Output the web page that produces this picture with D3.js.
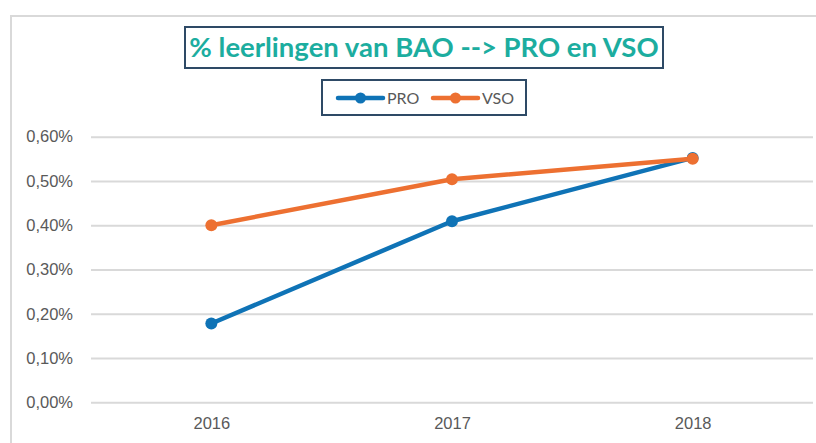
<!DOCTYPE html>
<html>
<head>
<meta charset="utf-8">
<script src="https://cdn.jsdelivr.net/npm/d3@7"></script>
<style>
body{margin:0;background:#fff;}
svg{display:block;font-family:Lato,"Open Sans",sans-serif;}
</style>
</head>
<body>
<svg id="chart"></svg>
<script>
var width  = 816;
var height = 443;

// data
var years = ["2016","2017","2018"];
var proValues = [0.00178, 0.00409, 0.00552];
var vsoValues = [0.00400, 0.00504, 0.00550];
var yTicks = [0, 0.001, 0.002, 0.003, 0.004, 0.005, 0.006];
var seriesNames = ["PRO","VSO"];
var seriesColors = ["#0f73b6","#ed7031"];

var series = [
  {name:seriesNames[0], color:seriesColors[0], values:proValues},
  {name:seriesNames[1], color:seriesColors[1], values:vsoValues}
];

var svg = d3.select('#chart')
    .attr("width",width)
    .attr("height",height);

// outer frame of the chart
svg.append('rect')
    .attr("x",11).attr("y",16)
    .attr("width",width+20).attr("height",height+20)
    .attr("fill","none")
    .attr("stroke","#d9d9d9")
    .attr("stroke-width",2);

var xscale = d3.scalePoint()
    .domain(years)
    .range([91,813])
    .padding(0.5);

var yscale = d3.scaleLinear()
    .domain([0,0.006])
    .range([402.3,136.7]);

var fmt = d=>d3.format(".2f")(d*100).replace(".",",")+"%";

var yAxis = d3.axisLeft(yscale)
    .tickValues(yTicks)
    .tickSize(-(813-91))
    .tickPadding(18)
    .tickFormat(fmt);

svg.append('g')
    .classed('yAxis',true)
    .attr("transform","translate(91,0)")
    .call(yAxis)
    .call(g=>g.select('.domain').remove())
    .call(g=>g.selectAll('.tick line').attr("stroke","#d9d9d9").attr("stroke-width",2))
    .call(g=>g.selectAll('.tick text').attr("fill","#595959").style("font-size","16.5px"));

var xAxis = d3.axisBottom(xscale)
    .tickSize(0)
    .tickPadding(15);

svg.append('g')
    .classed('xAxis',true)
    .attr("transform","translate(0,402.3)")
    .call(xAxis)
    .call(g=>g.select('.domain').remove())
    .call(g=>g.selectAll('.tick text').attr("fill","#595959").style("font-size","16.5px"));

var line = d3.line()
    .x((d,i)=>xscale(years[i]))
    .y(d=>yscale(d));

var groups = svg.selectAll('.series')
    .data(series)
    .enter()
    .append('g')
    .classed('series',true);

groups.append('path')
    .attr("d",d=>line(d.values))
    .attr("fill","none")
    .attr("stroke",d=>d.color)
    .attr("stroke-width",4.5)
    .attr("stroke-linejoin","round");

groups.selectAll('circle')
    .data(d=>d.values.map(v=>({v:v,color:d.color})))
    .enter()
    .append('circle')
    .attr("cx",(d,i)=>xscale(years[i]))
    .attr("cy",d=>yscale(d.v))
    .attr("r",6)
    .attr("fill",d=>d.color);

// title box
svg.append('rect')
    .attr("x",185).attr("y",27)
    .attr("width",478).attr("height",41)
    .attr("fill","#fff")
    .attr("stroke","#2e4a66")
    .attr("stroke-width",2);

svg.append('text')
    .attr("x",424).attr("y",57)
    .attr("text-anchor","middle")
    .attr("fill","#1cad9f")
    .style("font-size","27.5px")
    .style("font-weight","bold")
    .text("% leerlingen van BAO --> PRO en VSO");

// legend box
svg.append('rect')
    .attr("x",322).attr("y",80)
    .attr("width",204).attr("height",35)
    .attr("fill","#fff")
    .attr("stroke","#2e4a66")
    .attr("stroke-width",2);

var legend = svg.selectAll('.legendItem')
    .data(series)
    .enter()
    .append('g')
    .classed('legendItem',true)
    .attr("transform",(d,i)=>`translate(${338+i*95},98)`);

legend.append('line')
    .attr("x1",0).attr("x2",45)
    .attr("stroke",d=>d.color)
    .attr("stroke-width",4.5)
    .attr("stroke-linecap","round");

legend.append('circle')
    .attr("cx",22.5).attr("r",5.5)
    .attr("fill",d=>d.color);

legend.append('text')
    .attr("x",49).attr("y",5.5)
    .attr("fill","#595959")
    .style("font-size","16px")
    .text(d=>d.name);
</script>
</body>
</html>
